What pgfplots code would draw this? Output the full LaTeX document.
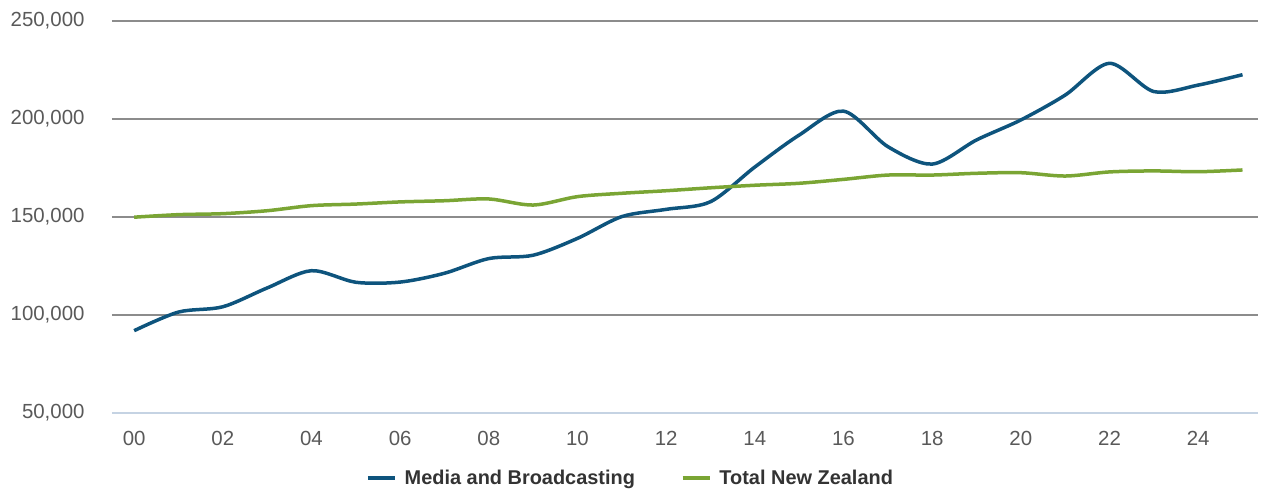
\documentclass[border=0pt]{standalone}
\usepackage{pgfplots}
\pgfplotsset{compat=1.18}
\usepackage{fontspec}
\setmainfont{Liberation Sans}
\definecolor{mbblue}{RGB}{14,84,125}
\definecolor{nzgreen}{RGB}{122,165,52}
\definecolor{gridgray}{RGB}{140,140,140}
\definecolor{ticktext}{RGB}{89,89,89}
\definecolor{legtext}{RGB}{51,51,51}
\definecolor{baseblue}{RGB}{197,211,227}
\begin{document}
\begin{tikzpicture}
\path[use as bounding box] (-112bp,-76bp) rectangle (1153bp,413bp);
\begin{axis}[
  at={(0,0)}, anchor=south west,
  scale only axis, width=1146bp, height=392bp,
  xmin=-0.5, xmax=25.35, ymin=50000, ymax=250000,
  axis line style={draw=none},
  major tick length=0pt,
  xtick={0,2,...,24},
  xticklabels={00,02,04,06,08,10,12,14,16,18,20,22,24},
  ytick={100000,150000,200000,250000},
  extra y ticks={50000},
  extra y tick style={grid style={color=baseblue, line width=1.6bp}},
  ymajorgrids,
  grid style={color=gridgray, line width=1.2bp},
  scaled y ticks=false,
  yticklabel={\pgfmathprintnumber[fixed,precision=0,1000 sep={,},assume math mode=true]{\tick}},
  ticklabel style={font=\fontsize{20.5}{24}\selectfont, text=ticktext},
  yticklabel style={xshift=-24bp},
  xticklabel style={yshift=-15bp},
  legend columns=2,
  legend style={at={(0.4525,-0.1658)}, anchor=center, draw=none, fill=none,
    font=\bfseries\fontsize{20}{24}\selectfont, text=legtext,
    /tikz/every odd column/.append style={column sep=6bp},
    /tikz/every even column/.append style={column sep=44bp}},
  legend image code/.code={\draw[#1, line width=3.5bp] (0bp,0bp) -- (27bp,0bp);},
]
\addplot[mbblue, line width=3.5bp, smooth, tension=0.5] coordinates {
(0,92000) (1,101500) (2,104200) (3,113800) (4,122600) (5,116700) (6,116800)
(7,121300) (8,128800) (9,130500) (10,139100) (11,150200) (12,153900) (13,157800)
(14,175500) (15,191800) (16,204000) (17,185900) (18,177000) (19,189300)
(20,199500) (21,212200) (22,228400) (23,214000) (24,217300) (25,222600)
};
\addlegendentry{Media and Broadcasting}
\addplot[nzgreen, line width=3.5bp, smooth, tension=0.5] coordinates {
(0,149900) (1,151200) (2,151700) (3,153200) (4,155800) (5,156600) (6,157700)
(7,158300) (8,159200) (9,156100) (10,160400) (11,162100) (12,163400) (13,164900)
(14,166200) (15,167200) (16,169200) (17,171400) (18,171400) (19,172300)
(20,172600) (21,170900) (22,173000) (23,173500) (24,173100) (25,174000)
};
\addlegendentry{Total New Zealand}
\end{axis}
\end{tikzpicture}
\end{document}
